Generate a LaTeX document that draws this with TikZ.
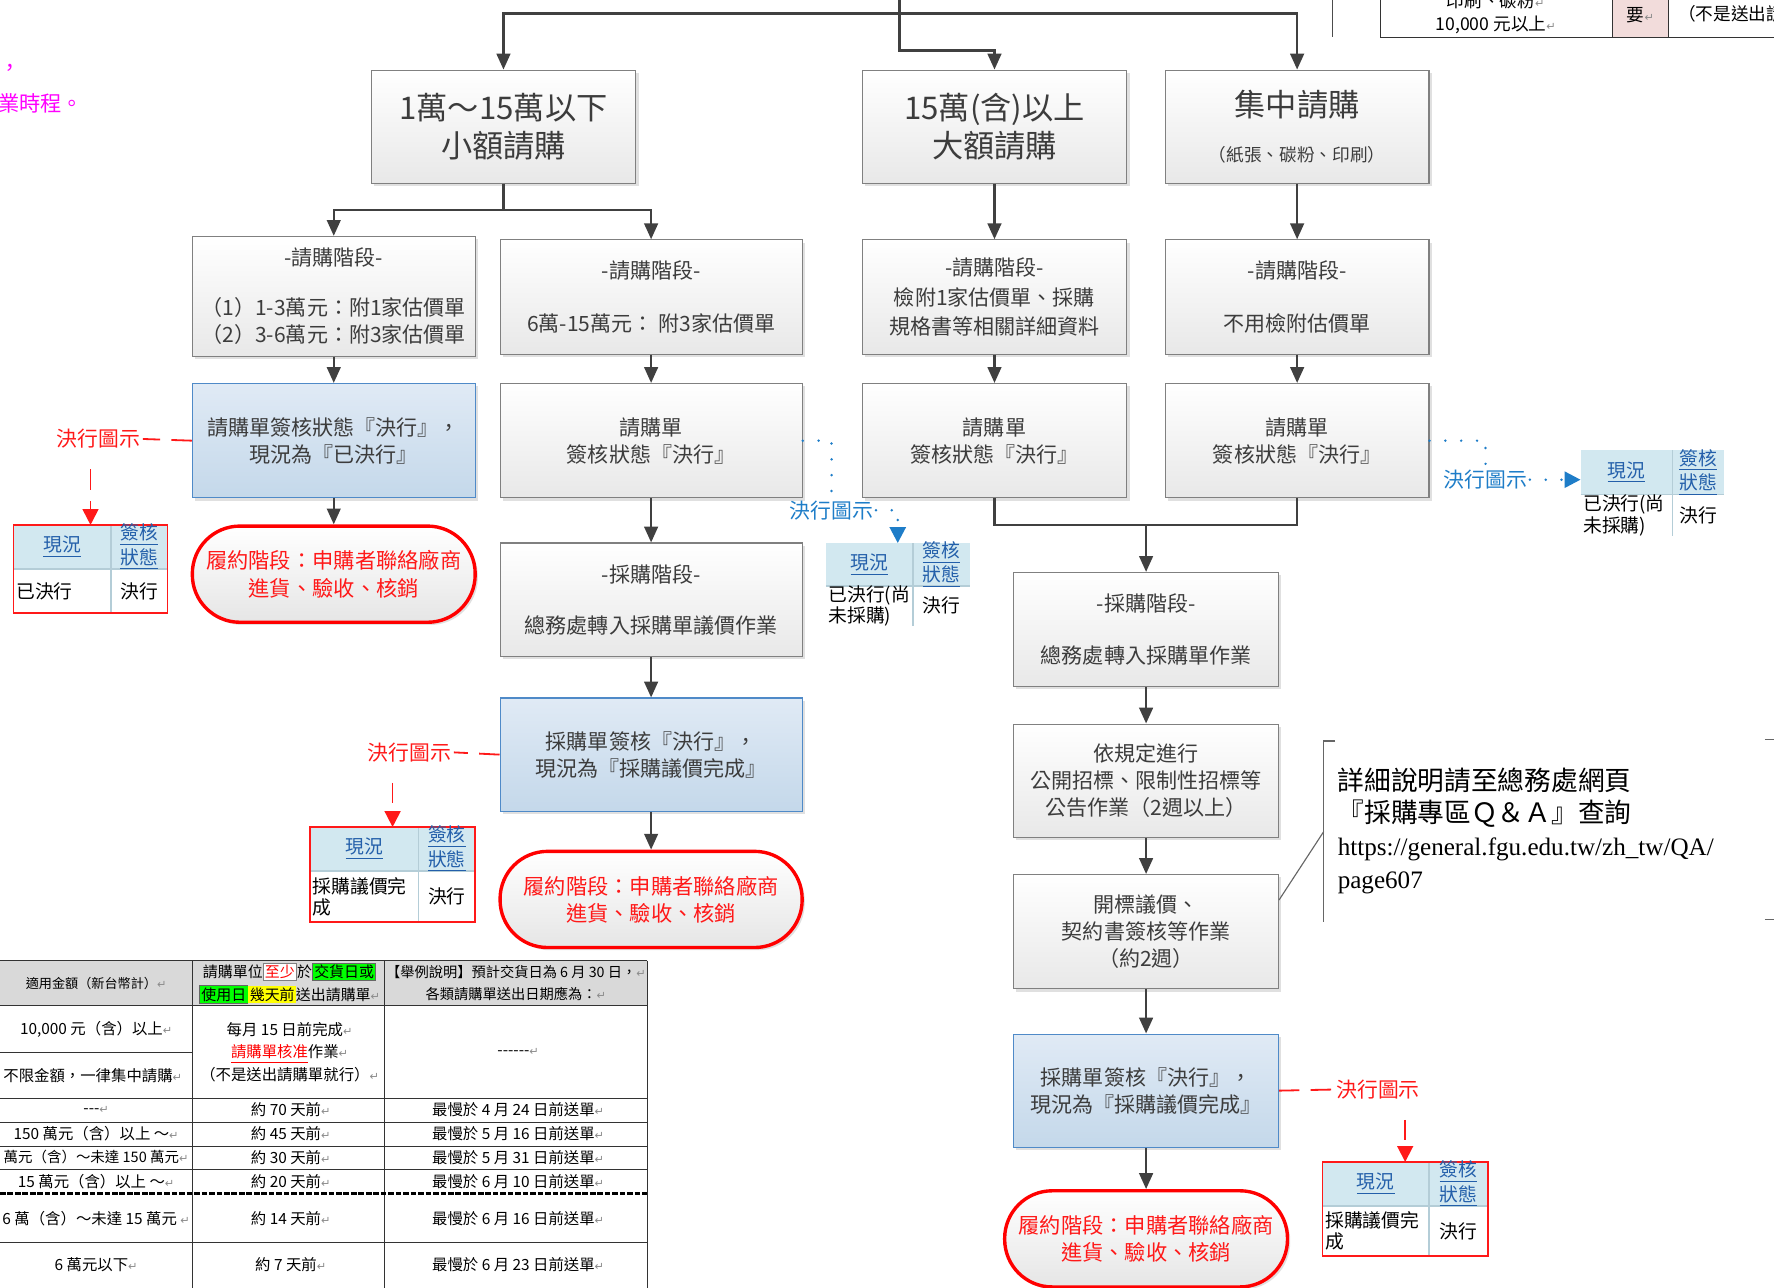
\documentclass[tikz,border=0pt]{standalone}
\usepackage{fontspec}
\setmainfont{Noto Sans CJK TC}
\newfontfamily\urlfont{Liberation Serif}
\newfontfamily\markfont{DejaVu Sans}
\usetikzlibrary{arrows.meta,shadows}

\definecolor{boxline}{RGB}{128,128,128}
\definecolor{boxtext}{RGB}{60,60,60}
\definecolor{flowgray}{RGB}{64,64,64}
\definecolor{bluetop}{RGB}{224,234,245}
\definecolor{bluebot}{RGB}{196,216,234}
\definecolor{blueline}{RGB}{79,138,200}
\definecolor{notered}{RGB}{255,25,25}
\definecolor{noteblue}{RGB}{30,125,200}
\definecolor{hdrblue}{RGB}{210,232,240}
\definecolor{cellline}{RGB}{180,205,215}
\definecolor{linkblue}{RGB}{35,95,170}
\definecolor{hdrgray}{RGB}{217,217,217}
\definecolor{magentatxt}{RGB}{255,0,255}
\definecolor{pinkcell}{RGB}{242,220,219}
\definecolor{hlgreen}{RGB}{0,255,0}
\definecolor{hlyellow}{RGB}{255,255,0}

\setlength{\fboxsep}{0.6pt}
\newcommand{\retmark}{{\markfont\fontsize{5}{6}\selectfont\textcolor{black!45}{↵}}}
\newcommand{\hlg}[1]{\fcolorbox{black!60}{hlgreen}{#1}}
\newcommand{\hly}[1]{\colorbox{hlyellow}{#1}}

\tikzset{
  graybox/.style={draw=boxline, line width=0.5pt, top color=white, bottom color=black!9,
    text=boxtext, align=center, font=\fontsize{9.3}{12}\selectfont, inner sep=1pt,
    minimum width=117pt, minimum height=50pt,
    drop shadow={shadow xshift=1.2pt, shadow yshift=-1.2pt, opacity=0.3, fill=black!40}},
  bluebox/.style={graybox, draw=blueline, top color=bluetop, bottom color=bluebot},
  titlebox/.style={graybox, font=\fontsize{13.8}{16.5}\selectfont},
  endoval/.style={draw=red, line width=1.5pt, rounded corners=21pt, top color=white,
    bottom color=black!10, text=notered, align=center, font=\fontsize{9.4}{12}\selectfont,
    minimum height=42.5pt, inner sep=1pt,
    drop shadow={shadow xshift=1.2pt, shadow yshift=-1.2pt, opacity=0.3, fill=black!40}},
  flow/.style={draw=flowgray, line width=1.1pt, -{Triangle[length=7pt,width=6pt]}},
  link/.style={draw=flowgray, line width=1.1pt},
  reddash/.style={draw=notered, line width=0.8pt, dash pattern=on 9pt off 5pt},
  redarrow/.style={reddash, -{Triangle[length=7pt,width=7pt]}},
  bluedot/.style={draw=noteblue, line width=1.2pt, dash pattern=on 0pt off 7pt, line cap=round},
  bluearrow/.style={bluedot, -{Triangle[length=7pt,width=7pt]}},
  redlabel/.style={text=notered, font=\fontsize{9.2}{11}\selectfont, inner sep=1pt},
  bluelabel/.style={redlabel, text=noteblue},
  tabhead/.style={text=linkblue, font=\fontsize{8.3}{9}\selectfont, align=center, inner sep=0.5pt},
  tabcell/.style={text=black, font=\fontsize{8.3}{9.5}\selectfont, align=left, inner sep=1pt},
  notetext/.style={text=black, font=\fontsize{11.8}{14.5}\selectfont, align=left, inner sep=1pt},
  noteline/.style={draw=black!60, line width=0.5pt},
  magtext/.style={text=magentatxt, font=\fontsize{9.4}{11}\selectfont, inner sep=0pt},
  tabtxt/.style={text=black, font=\fontsize{6.8}{10}\selectfont, align=center, inner sep=0.5pt},
  grid/.style={draw=black!80, line width=0.5pt},
  thickdash/.style={draw=black, line width=1.6pt, dash pattern=on 2.5pt off 0.8pt}
}

% status table: name, left, top, right, split, header bottom, bottom, state text, frame
\newcommand{\statustab}[9]{%
  \fill[hdrblue] (#2,#3) rectangle (#4,#6);
  \draw[cellline, line width=0.6pt] (#5,#3) -- (#5,#7) (#2,#6) -- (#4,#6);
  \draw[#9, line width=0.7pt] (#2,#3) rectangle (#4,#7);
  \node[tabhead] (#1a) at ({(#2+#5)/2},{(#3+#6)/2}) {\underline{現況}};
  \node[tabhead] (#1b) at ({(#5+#4)/2},{(#3+#6)/2}) {\underline{簽核}\\\underline{狀態}};
  \node[tabcell, anchor=west] (#1c) at (#2,{(#6+#7)/2}) {#8};
  \node[tabcell] (#1d) at ({(#5+#4)/2},{(#6+#7)/2}) {決行};
  \coordinate (#1n) at ({(#2+#4)/2},#3);
  \coordinate (#1w) at (#2,{(#3+#6)/2});
}

\begin{document}
\begin{tikzpicture}[x=0.5pt,y=-0.5pt]
\useasboundingbox (0,0) rectangle (1568,1138);
\fill[white] (0,0) rectangle (1568,1138);

% cut-off text at the edges
\node[magtext] (mag1) at (9,62) {，};
\node[magtext, anchor=west] (mag2) at (-2,91) {業時程。};
\draw[noteline, draw=black!70] (1178,0) -- (1178,33);
\fill[pinkcell] (1425,-2) rectangle (1475,33);
\draw[grid] (1220,-2) -- (1220,33) -- (1570,33) (1425,-2) -- (1425,33) (1475,-2) -- (1475,33);
\node[tabtxt, font=\fontsize{7.8}{9}\selectfont] (tr1) at (1322,1) {印刷、碳粉\retmark};
\node[tabtxt, font=\fontsize{7.8}{9}\selectfont] (tr2) at (1322,22) {10,000 元以上\retmark};
\node[tabtxt, font=\fontsize{7.8}{9}\selectfont] (tr3) at (1450,13) {要\retmark};
\node[tabtxt, font=\fontsize{7.8}{9}\selectfont, anchor=west] (tr4) at (1482,12) {（不是送出請購};

% first row
\node[titlebox] (A) at (445,112) {1萬～15萬以下\\小額請購};
\node[titlebox] (B) at (879,112) {15萬(含)以上\\大額請購};
\node[titlebox, minimum width=116.5pt] (C) at (1146.5,112) {集中請購\\[3pt]{\fontsize{7.8}{9}\selectfont（紙張、碳粉、印刷）}};

% stages
\node[graybox, minimum width=125pt, minimum height=53pt] (A1) at (295,262) {-請購階段-\\[10pt]（1）1-3萬元：附1家估價單\\（2）3-6萬元：附3家估價單};
\node[graybox, minimum width=133.5pt, minimum height=50.5pt] (A2) at (575.5,262.5) {-請購階段-\\[11pt]6萬-15萬元： 附3家估價單};
\node[graybox, minimum height=50.5pt] (B1) at (879,262.5) {-請購階段-\\[1pt]檢附1家估價單、採購\\[1pt]規格書等相關詳細資料};
\node[graybox, minimum width=116.5pt, minimum height=50.5pt] (C1) at (1146.5,262.5) {-請購階段-\\[11pt]不用檢附估價單};

\node[bluebox, minimum width=125pt, minimum height=50.5pt] (A1b) at (295,389.5) {請購單簽核狀態『決行』，\\現況為『已決行』};
\node[graybox, minimum width=133.5pt, minimum height=50.5pt] (A2b) at (575.5,389.5) {請購單\\簽核狀態『決行』};
\node[graybox, minimum height=50.5pt] (B1b) at (879,389.5) {請購單\\簽核狀態『決行』};
\node[graybox, minimum width=116.5pt, minimum height=50.5pt] (C1b) at (1146.5,389.5) {請購單\\簽核狀態『決行』};

\node[endoval, minimum width=125pt] (A1o) at (295,507.5) {履約階段：申購者聯絡廠商\\進貨、驗收、核銷};
\node[graybox, minimum width=133.5pt] (A2c) at (575.5,530) {-採購階段-\\[10.5pt]總務處轉入採購單議價作業};
\node[bluebox, minimum width=133.5pt] (A2d) at (575.5,667) {採購單簽核『決行』，\\現況為『採購議價完成』};
\node[endoval, minimum width=133.5pt] (A2o) at (575.5,795) {履約階段：申購者聯絡廠商\\進貨、驗收、核銷};

\node[graybox, minimum height=50.5pt] (D) at (1013,556.5) {-採購階段-\\[11pt]總務處轉入採購單作業};
\node[graybox] (E) at (1013,690) {依規定進行\\公開招標、限制性招標等\\公告作業（2週以上）};
\node[graybox, minimum height=50.5pt] (F) at (1013,823.5) {開標議價、\\契約書簽核等作業\\（約2週）};
\node[bluebox] (G) at (1013,964) {採購單簽核『決行』，\\現況為『採購議價完成』};
\node[endoval, minimum width=125pt] (Go) at (1013,1095) {履約階段：申購者聯絡廠商\\進貨、驗收、核銷};

% connectors
\coordinate (src) at (795,0);
\coordinate (bar) at (795,12);
\draw[flow] (src) |- ([yshift=8.5pt]B.north) -- (B.north);
\draw[flow] (bar) -| (A.north);
\draw[flow] (bar) -| (C.north);
\draw[flow] (A.south) -- ++(0,23) -| (A1.north);
\draw[flow] (A.south) -- ++(0,23) -| (A2.north);
\draw[flow] (A1) -- (A1b);
\draw[flow] (A1b) -- (A1o);
\draw[flow] (A2) -- (A2b);
\draw[flow] (A2b) -- (A2c);
\draw[flow] (A2c) -- (A2d);
\draw[flow] (A2d) -- (A2o);
\draw[flow] (B) -- (B1);
\draw[flow] (B1) -- (B1b);
\draw[flow] (C) -- (C1);
\draw[flow] (C1) -- (C1b);
\coordinate (merge) at (1013,464);
\draw[link] (B1b.south) |- (merge) -| (C1b.south);
\draw[flow] (merge) -- (D);
\draw[flow] (D) -- (E);
\draw[flow] (E) -- (F);
\draw[flow] (F) -- (G);
\draw[flow] (G) -- (Go);

% status tables
\statustab{T1}{12}{464}{148}{98}{503}{542}{已決行}{notered}
\statustab{T2}{730}{480}{857}{807}{518}{553}{已決行(尚\\未採購)}{draw=none}
\statustab{T3}{274}{731}{420}{370}{770}{815}{採購議價完\\成}{notered}
\statustab{T4}{1397}{398}{1524}{1478}{437}{474}{已決行(尚\\未採購)}{draw=none}
\statustab{T5}{1169}{1027}{1315}{1263}{1066}{1110}{採購議價完\\成}{notered}

% status hints
\node[redlabel] (rA) at (87,388) {決行圖示};
\draw[reddash] (A1b.west) -- (rA.east);
\draw[redarrow] ([yshift=-8pt]rA.south -| T1n) -- (T1n);
\node[redlabel] (rB) at (362,665) {決行圖示};
\draw[reddash] (A2d.west) -- (rB.east);
\draw[redarrow] ([yshift=-8pt]rB.south -| T3n) -- (T3n);
\node[redlabel] (rC) at (1218,963) {決行圖示};
\draw[reddash] (G.east) -- (rC.west);
\draw[redarrow] ([yshift=-8pt]rC.south -| T5n) -- (T5n);
\node[bluelabel] (bA) at (735,451) {決行圖示};
\draw[bluedot] (A2b.east) -| (bA.north);
\draw[bluearrow] (bA.east) -| (T2n);
\node[bluelabel] (bC) at (1313,424) {決行圖示};
\draw[bluedot] (C1b.east) -| (bC.north);
\draw[bluearrow] (bC.east) -- (bC.east -| T4w);

% note
\coordinate (brk) at (1170,735);
\draw[noteline] (1180,655) -- (1170,655) -- (1170,815);
\draw[noteline] ([yshift=14pt]F.east) -- (brk);
\draw[noteline] (1560,654) -- (1570,654) (1560,813) -- (1570,813);
\node[notetext, anchor=north west] (note) at (1180,676) {詳細說明請至總務處網頁\\『採購專區Ｑ＆Ａ』查詢\\{\urlfont\fontsize{11.1}{14.5}\selectfont https://general.fgu.edu.tw/zh\_tw/QA/}\\{\urlfont\fontsize{11.1}{14.5}\selectfont page607}};

% lead time table
\fill[hdrgray] (0,849) rectangle (572,889);
\draw[grid] (0,849) -- (572,849) (0,889) -- (572,889) (0,930) -- (170,930)
  (0,971) -- (572,971) (0,992) -- (572,992) (0,1013) -- (572,1013)
  (0,1034) -- (572,1034) (0,1098) -- (572,1098);
\draw[grid] (170,849) -- (170,1140) (340,849) -- (340,1140) (572,849) -- (572,1140);
\draw[thickdash] (0,1055) -- (572,1055);
\node[tabtxt, font=\fontsize{5.8}{8}\selectfont] (h1) at (85,869) {適用金額（新台幣計）\retmark};
\node[tabtxt, font=\fontsize{6.6}{10}\selectfont] (h2) at (256,869) {請購單位\fcolorbox{black!50}{white}{\textcolor{red}{至少}}於\hlg{交貨日或}\\\hlg{使用日}\hly{幾天前}送出請購單\retmark};
\node[tabtxt, font=\fontsize{6.3}{10}\selectfont] (h3) at (456,869) {【舉例說明】預計交貨日為 6 月 30 日，\retmark\\各類請購單送出日期應為：\retmark};
\node[tabtxt] (r1) at (85,910) {10,000 元（含）以上\retmark};
\node[tabtxt] (r2) at (82,951) {不限金額，一律集中請購\retmark};
\node[tabtxt] (m2) at (256,930) {每月 15 日前完成\retmark\\\textcolor{red}{\underline{請購單核准}}作業\retmark\\（不是送出請購單就行）\retmark};
\node[tabtxt] (m3) at (458,930) {-{}-{}-{}-{}-{}-\retmark};
\node[tabtxt] (r3) at (85,981) {-{}-{}-\retmark};
\node[tabtxt] (r4) at (85,1002) {150 萬元（含）以上 ～\retmark};
\node[tabtxt, anchor=east, font=\fontsize{6.4}{10}\selectfont] (r5) at (168,1023) {萬元（含）～未達 150 萬元\retmark};
\node[tabtxt] (r6) at (85,1044) {15 萬元（含）以上 ～\retmark};
\node[tabtxt] (r7) at (85,1077) {6 萬（含）～未達 15 萬元 \retmark};
\node[tabtxt] (r8) at (85,1118) {6 萬元以下\retmark};
\foreach \ry/\cb/\cc [count=\i] in {981/約 70 天前/最慢於 4 月 24 日前送單,
  1002/約 45 天前/最慢於 5 月 16 日前送單, 1023/約 30 天前/最慢於 5 月 31 日前送單,
  1044/約 20 天前/最慢於 6 月 10 日前送單, 1077/約 14 天前/最慢於 6 月 16 日前送單,
  1118/約 7 天前/最慢於 6 月 23 日前送單}
{
  \node[tabtxt] (d\i) at (257,\ry) {\cb\retmark};
  \node[tabtxt] (e\i) at (458,\ry) {\cc\retmark};
}
\end{tikzpicture}
\end{document}
